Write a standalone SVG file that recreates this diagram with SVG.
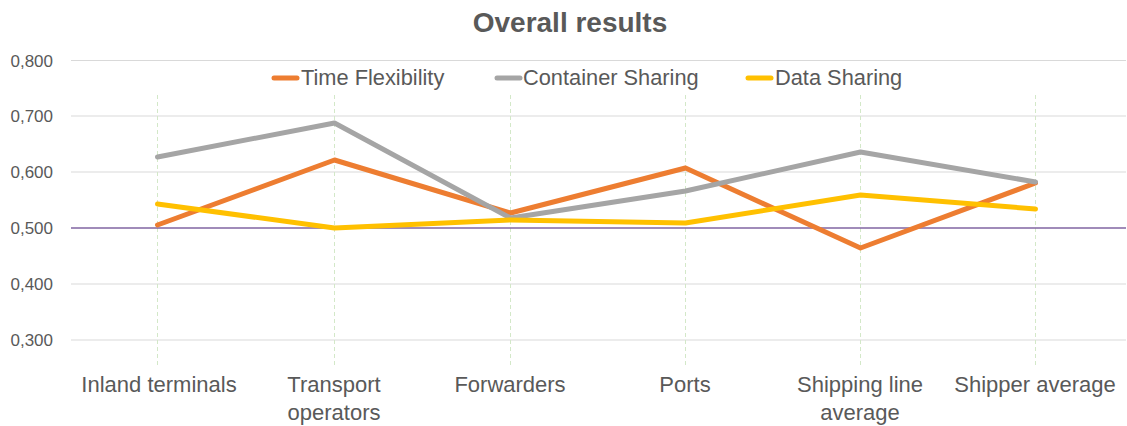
<svg xmlns="http://www.w3.org/2000/svg" width="1127" height="426" viewBox="0 0 1127 426">
<style>
text{font-family:"Liberation Sans",Arial,sans-serif;fill:#595959}
.ax{font-size:17px;text-anchor:end}
.cat{font-size:22px;text-anchor:middle}
.leg{font-size:21.8px}
.grid{stroke:#d9d9d9;stroke-width:1}
.vg{stroke:#d3e8c8;stroke-width:1;stroke-dasharray:4 3}
.s{fill:none;stroke-width:5;stroke-linecap:round;stroke-linejoin:round}
.t{stroke:#ED7D31}.c{stroke:#A5A5A5}.d{stroke:#FFC000}
</style>
<rect width="1127" height="426" fill="#fff"/>
<text x="570" y="32" style="font-size:28px;font-weight:bold;text-anchor:middle">Overall results</text>
<g id="gridlines">
<line class="grid" x1="71" y1="60.5" x2="1126" y2="60.5"/>
<line class="grid" x1="71" y1="116" x2="1126" y2="116"/>
<line class="grid" x1="71" y1="172" x2="1126" y2="172"/>
<line class="grid" x1="71" y1="284" x2="1126" y2="284"/>
<line class="grid" x1="71" y1="340" x2="1126" y2="340"/>
<line class="vg" x1="157.5" y1="95" x2="157.5" y2="368"/>
<line class="vg" x1="334.5" y1="95" x2="334.5" y2="368"/>
<line class="vg" x1="510.5" y1="95" x2="510.5" y2="368"/>
<line class="vg" x1="685.5" y1="95" x2="685.5" y2="368"/>
<line class="vg" x1="860.5" y1="95" x2="860.5" y2="368"/>
<line class="vg" x1="1035.5" y1="95" x2="1035.5" y2="368"/>
<line x1="71" y1="228" x2="1126" y2="228" stroke="#8064A2" stroke-width="1.5"/>
</g>
<g id="y-axis">
<text class="ax" x="53" y="67">0,800</text>
<text class="ax" x="53" y="122">0,700</text>
<text class="ax" x="53" y="178">0,600</text>
<text class="ax" x="53" y="234">0,500</text>
<text class="ax" x="53" y="290">0,400</text>
<text class="ax" x="53" y="346">0,300</text>
</g>
<g id="x-axis">
<text class="cat" x="159" y="392">Inland terminals</text>
<text class="cat" x="334" y="392">Transport</text>
<text class="cat" x="334" y="420">operators</text>
<text class="cat" x="510" y="392">Forwarders</text>
<text class="cat" x="685" y="392">Ports</text>
<text class="cat" x="860" y="392">Shipping line</text>
<text class="cat" x="860" y="420">average</text>
<text class="cat" x="1035" y="392">Shipper average</text>
</g>
<g id="connectors">
<polyline id="time-flexibility" class="s t" points="157.5,225 334.5,160 510.5,213 685.5,168 860.5,248 1035.5,183"/>
<polyline id="container-sharing" class="s c" points="157.5,157 334.5,123 510.5,218 685.5,191 860.5,152 1035.5,182"/>
<polyline id="data-sharing" class="s d" points="157.5,204 334.5,228 510.5,220 685.5,223 860.5,195 1035.5,209"/>
</g>
<g id="legend">
<line class="s t" x1="274" y1="78" x2="297" y2="78"/>
<text class="leg" x="301" y="85">Time Flexibility</text>
<line class="s c" x1="497" y1="78" x2="520" y2="78"/>
<text class="leg" x="523" y="85">Container Sharing</text>
<line class="s d" x1="748" y1="78" x2="771" y2="78"/>
<text class="leg" x="775" y="85">Data Sharing</text>
</g>
</svg>
